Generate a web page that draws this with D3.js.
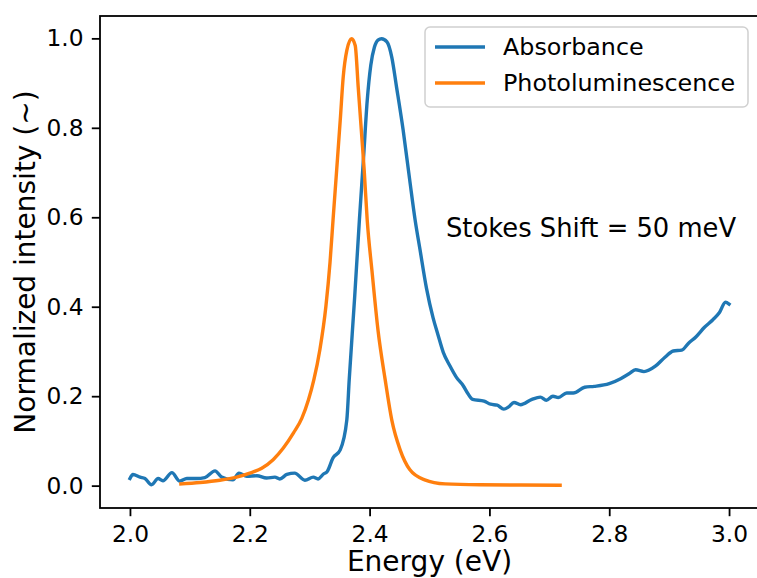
<!DOCTYPE html>
<html>
<head>
<meta charset="utf-8">
<script src="https://cdn.jsdelivr.net/npm/d3@7"></script>
<style>
  body { margin: 0; background: #fff; }
  svg { display: block; font-family: "DejaVu Sans", sans-serif; }
</style>
</head>
<body>
<svg width="757" height="578"></svg>
<script>
// absorbance
var absEnergy = [2.000, 2.005, 2.017, 2.025, 2.036, 2.047, 2.055, 2.070, 2.083, 2.095, 2.111, 2.125, 2.142, 2.153,
  2.172, 2.182, 2.195, 2.212, 2.228, 2.242, 2.250, 2.262, 2.275, 2.292, 2.306, 2.314, 2.323, 2.329, 2.339,
  2.351, 2.362, 2.366, 2.375, 2.383, 2.390, 2.396, 2.402, 2.408, 2.414, 2.420, 2.429, 2.437, 2.445, 2.456, 2.467,
  2.476, 2.484, 2.495, 2.506, 2.514, 2.523, 2.534, 2.545, 2.556, 2.564, 2.572, 2.591, 2.602, 2.613, 2.624,
  2.632, 2.641, 2.652, 2.671, 2.685, 2.695, 2.706, 2.715, 2.729, 2.740, 2.759, 2.775, 2.800, 2.819, 2.833,
  2.844, 2.858, 2.877, 2.893, 2.907, 2.921, 2.932, 2.945, 2.959, 2.973, 2.984, 2.994, 3.000];
var absValue = [0.016, 0.025, 0.019, 0.016, 0.002, 0.016, 0.011, 0.029, 0.010, 0.016, 0.016, 0.018, 0.033, 0.019,
  0.013, 0.028, 0.021, 0.022, 0.017, 0.019, 0.015, 0.025, 0.028, 0.012, 0.019, 0.015, 0.026, 0.031, 0.062,
  0.080, 0.147, 0.237, 0.420, 0.594, 0.735, 0.860, 0.940, 0.980, 0.996, 0.999, 0.992, 0.958, 0.891, 0.795, 0.683,
  0.594, 0.529, 0.441, 0.375, 0.338, 0.298, 0.268, 0.242, 0.224, 0.206, 0.193, 0.189, 0.182, 0.180, 0.171,
  0.176, 0.186, 0.181, 0.193, 0.198, 0.191, 0.200, 0.197, 0.207, 0.207, 0.220, 0.222, 0.228, 0.239, 0.250,
  0.259, 0.255, 0.267, 0.287, 0.301, 0.303, 0.318, 0.333, 0.354, 0.371, 0.387, 0.410, 0.406];

// photoluminescence
var plEnergy = [2.085, 2.117, 2.150, 2.178, 2.200, 2.220, 2.239, 2.256, 2.273, 2.287, 2.298, 2.307, 2.317,
  2.327, 2.334, 2.339, 2.345, 2.351, 2.356, 2.362, 2.370, 2.376, 2.381, 2.387, 2.391, 2.396, 2.404, 2.414, 2.426,
  2.437, 2.451, 2.467, 2.492, 2.526, 2.584, 2.718];
var plValue = [0.004, 0.007, 0.012, 0.019, 0.028, 0.039, 0.058, 0.084, 0.118, 0.151, 0.192, 0.237, 0.304,
  0.400, 0.500, 0.594, 0.705, 0.817, 0.914, 0.973, 0.999, 0.984, 0.891, 0.780, 0.705, 0.594, 0.480, 0.348, 0.237,
  0.147, 0.080, 0.036, 0.013, 0.004, 0.002, 0.001];

var xTicks = [2.0, 2.2, 2.4, 2.6, 2.8, 3.0];
var yTicks = [0.0, 0.2, 0.4, 0.6, 0.8, 1.0];
var seriesNames = ["Absorbance", "Photoluminescence"];
var seriesColors = ["#1f77b4", "#ff7f0e"];

(function () {
  var svg = d3.select("svg");
  var m = { left: 100, right: 759, top: 16, bottom: 508 };

  var x = d3.scaleLinear().domain([1.95, 3.05]).range([m.left, m.right]);
  var y = d3.scaleLinear().domain([-0.05, 1.05]).range([m.bottom, m.top]);

  var line = d3.line()
    .curve(d3.curveMonotoneX)
    .x(d => x(d[0]))
    .y(d => y(d[1]));

  var series = [
    d3.zip(absEnergy, absValue),
    d3.zip(plEnergy, plValue)
  ];

  svg.append("g")
    .selectAll("path")
    .data(series)
    .enter()
    .append("path")
    .attr("d", line)
    .attr("fill", "none")
    .attr("stroke", (d, i) => seriesColors[i])
    .attr("stroke-width", 3.4)
    .attr("stroke-linejoin", "round")
    .attr("stroke-linecap", "square");

  // axes
  var xAxis = svg.append("g")
    .attr("transform", `translate(0,${m.bottom})`)
    .call(d3.axisBottom(x).tickValues(xTicks).tickFormat(d3.format(".1f")).tickSize(8.2).tickPadding(8.2));
  var yAxis = svg.append("g")
    .attr("transform", `translate(${m.left},0)`)
    .call(d3.axisLeft(y).tickValues(yTicks).tickFormat(d3.format(".1f")).tickSize(8.2).tickPadding(8.2));

  [xAxis, yAxis].forEach(a => {
    a.select(".domain").remove();
    a.selectAll(".tick line").attr("stroke", "#000").attr("stroke-width", 1.8);
    a.selectAll(".tick text")
      .attr("fill", "#000")
      .style("font-size", "23.3px")
      .style("font-family", "DejaVu Sans");
  });
  xAxis.selectAll(".tick text").attr("dy", "0.75em");

  // spines
  svg.append("rect")
    .attr("x", m.left).attr("y", m.top)
    .attr("width", m.right - m.left).attr("height", m.bottom - m.top)
    .attr("fill", "none")
    .attr("stroke", "#000")
    .attr("stroke-width", 1.8);

  // labels
  svg.append("text")
    .attr("x", (m.left + m.right) / 2)
    .attr("y", 571)
    .attr("text-anchor", "middle")
    .style("font-size", "28px")
    .text("Energy (eV)");

  svg.append("text")
    .attr("transform", `translate(35,${(m.top + m.bottom) / 2}) rotate(-90)`)
    .attr("text-anchor", "middle")
    .style("font-size", "28px")
    .text("Normalized intensity (~)");

  svg.append("text")
    .attr("x", 446)
    .attr("y", 237)
    .style("font-size", "25.8px")
    .text("Stokes Shift = 50 meV");

  // legend
  var legend = svg.append("g");
  legend.append("rect")
    .attr("x", 425).attr("y", 27)
    .attr("width", 323).attr("height", 80)
    .attr("rx", 5)
    .attr("fill", "#fff")
    .attr("fill-opacity", 0.8)
    .attr("stroke", "#d0d0d0")
    .attr("stroke-width", 1.5);

  var items = legend.selectAll("g.item")
    .data(seriesNames)
    .enter()
    .append("g")
    .attr("class", "item")
    .attr("transform", (d, i) => `translate(0,${47 + i * 36})`);

  items.append("line")
    .attr("x1", 435).attr("x2", 485)
    .attr("stroke", (d, i) => seriesColors[i])
    .attr("stroke-width", 3.4);

  items.append("text")
    .attr("x", 503)
    .attr("y", 8)
    .style("font-size", "23.8px")
    .text(d => d);
})();
</script>
</body>
</html>
